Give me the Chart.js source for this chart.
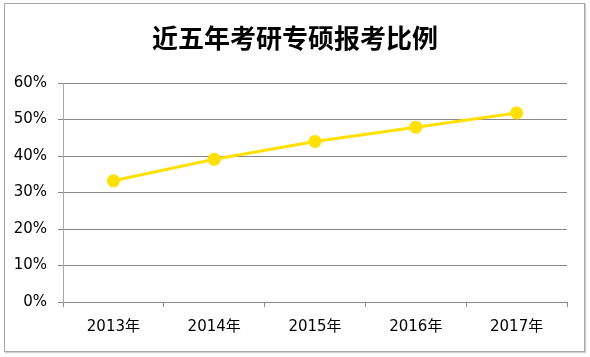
<!DOCTYPE html>
<html>
<head>
<meta charset="utf-8">
<script src="https://cdn.jsdelivr.net/npm/chart.js@4"></script>
<style>
  html, body { margin: 0; padding: 0; background: #fff; }
  #wrap { position: relative; width: 590px; height: 357px; }
  #frame { position: absolute; left: 4px; top: 3px; width: 579px; height: 347px; border: 1px solid #a6a6a6; box-shadow: 1px 1px 1px #d0d0d0; pointer-events: none; }
  canvas { position: absolute; left: 0; top: 0; }
</style>
</head>
<body>
<div id="wrap">
  <canvas id="c" width="590" height="357"></canvas>
  <div id="frame"></div>
</div>
<script>
const titleText = "近五年考研专硕报考比例";
const categories = ["2013年", "2014年", "2015年", "2016年", "2017年"];
const ratioValues = [33.2, 39.1, 44.0, 47.9, 51.8];
const yMin = 0, yMax = 60, yStep = 10;

const labelFont = { family: "'DejaVu Sans', 'Noto Sans CJK SC', sans-serif", size: 15 };

const titlePlugin = {
  id: "centerTitle",
  afterDraw(chart) {
    const ctx = chart.ctx;
    ctx.save();
    ctx.fillStyle = "#000";
    ctx.font = "bold 26px 'Noto Sans CJK SC', sans-serif";
    ctx.textAlign = "center";
    ctx.textBaseline = "middle";
    ctx.fillText(titleText, chart.width / 2, 38);
    ctx.restore();
  }
};

new Chart(document.getElementById("c"), {
  type: "line",
  data: {
    labels: categories,
    datasets: [{
      label: "专硕报考比例",
      data: ratioValues,
      borderColor: "#FFE000",
      backgroundColor: "#FFE000",
      borderWidth: 3,
      pointRadius: 5,
      pointHoverRadius: 5,
      pointBackgroundColor: "#FFE000",
      pointBorderColor: "#FFE000",
      tension: 0
    }]
  },
  plugins: [titlePlugin],
  options: {
    responsive: false,
    animation: false,
    devicePixelRatio: 1,
    layout: { padding: { left: 0, right: 23, top: 83, bottom: 0 } },
    plugins: {
      legend: { display: false },
      tooltip: { enabled: false },
      title: { display: false }
    },
    scales: {
      x: {
        offset: true,
        grid: {
          offset: true,
          drawOnChartArea: false,
          drawTicks: true,
          tickLength: 5,
          color: "#888888"
        },
        border: { display: true, color: "#888888", width: 1 },
        ticks: { color: "#000", font: labelFont, padding: 11, maxRotation: 0 },
        afterFit: (s) => { s.height = 55; }
      },
      y: {
        min: yMin,
        max: yMax,
        grid: {
          drawTicks: true,
          tickLength: 5,
          color: "#888888",
          lineWidth: 1
        },
        border: { display: true, color: "#aaaaaa", width: 1 },
        ticks: {
          stepSize: yStep,
          color: "#000",
          font: labelFont,
          padding: 11,
          callback: (v) => v + "%"
        },
        afterFit: (s) => { s.width = 63; }
      }
    }
  }
});
</script>
</body>
</html>
